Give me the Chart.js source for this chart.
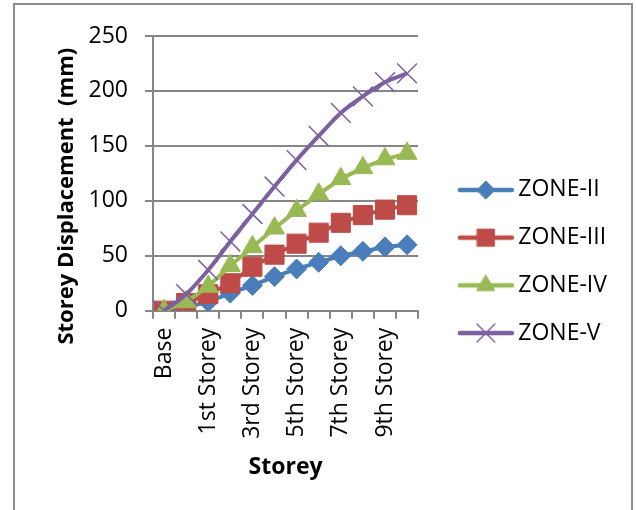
<!DOCTYPE html>
<html>
<head>
<meta charset="utf-8">
<script src="https://cdn.jsdelivr.net/npm/chart.js@4"></script>
<style>
  html, body { margin: 0; padding: 0; background: #fff; }
  #wrap { position: relative; width: 636px; height: 510px; overflow: hidden; }
  #frame { position: absolute; left: 13px; top: 3px; width: 620px; height: 600px; border: 2px solid #8c8c8c; box-sizing: border-box; }
  #c { position: absolute; left: 0; top: 0; }
</style>
</head>
<body>
<div id="wrap">
  <div id="frame"></div>
  <canvas id="c" width="636" height="510"></canvas>
</div>
<script>
const categories = ['Base', 'Plinth', '1st Storey', '2nd Storey', '3rd Storey', '4th Storey', '5th Storey', '6th Storey', '7th Storey', '8th Storey', '9th Storey', '10th Storey'];
const zone2 = [0, 3, 8, 16, 23, 31, 38, 44, 50, 54, 58, 60];
const zone3 = [0, 7, 15, 25, 40, 51, 61, 71, 80, 87, 92, 96];
const zone4 = [0, 8, 22, 41, 58, 75, 91, 106, 120, 130, 138, 143];
const zone5 = [0, 15, 37, 63, 88, 113, 137, 159, 180, 195, 208, 216];
const seriesNames = ['ZONE-II', 'ZONE-III', 'ZONE-IV', 'ZONE-V'];
const yTicks = [0, 50, 100, 150, 200, 250];

const colors = ['#4A7EBB', '#BE4B48', '#98B954', '#7D60A0'];
const styles = [
  { pointStyle: 'rectRot', radius: 10, bw: 1 },
  { pointStyle: 'rect', radius: 13.5, bw: 1 },
  { pointStyle: 'triangle', radius: 11.5, bw: 1 },
  { pointStyle: 'crossRot', radius: 14, bw: 1.5 }
];

Chart.defaults.font.family = "'Open Sans', sans-serif";
Chart.defaults.color = '#000';

function legendImage(i) {
  const cv = document.createElement('canvas');
  cv.width = 80; cv.height = 30;
  const ctx = cv.getContext('2d');
  ctx.strokeStyle = colors[i];
  ctx.lineWidth = 4.5;
  ctx.lineCap = 'round';
  ctx.beginPath();
  ctx.moveTo(25, 15);
  ctx.lineTo(77, 15);
  ctx.stroke();
  ctx.fillStyle = colors[i];
  ctx.strokeStyle = colors[i];
  ctx.lineWidth = styles[i].bw;
  Chart.helpers.drawPoint(ctx, { pointStyle: styles[i].pointStyle, radius: styles[i].radius * 0.9, borderWidth: styles[i].bw, rotation: 0 }, 51, 15);
  return cv;
}

const seriesData = [zone2, zone3, zone4, zone5];
const datasets = seriesData.map((d, i) => ({
  label: seriesNames[i],
  data: d,
  borderColor: colors[i],
  backgroundColor: colors[i],
  borderWidth: 4,
  pointStyle: styles[i].pointStyle,
  pointRadius: styles[i].radius,
  pointHoverRadius: styles[i].radius,
  pointBorderWidth: styles[i].bw,
  pointBackgroundColor: colors[i],
  pointBorderColor: colors[i],
  tension: 0,
  cubicInterpolationMode: i === 3 ? 'monotone' : 'default',
  order: 4 - i,
  fill: false
}));
const legendImgs = seriesNames.map((_, i) => legendImage(i));

new Chart(document.getElementById('c'), {
  type: 'line',
  data: { labels: categories, datasets: datasets },
  options: {
    responsive: false,
    animation: false,
    layout: { padding: { left: 49, top: 36, bottom: 23, right: 19 } },
    plugins: {
      tooltip: { enabled: false },
      legend: {
        position: 'right',
        align: 'center',
        maxWidth: 260,
        labels: {
          usePointStyle: true,
          pointStyleWidth: 64,
          boxHeight: 20,
          padding: 24.7,
          font: { size: 23 },
          color: '#000',
          generateLabels: (chart) => chart.data.datasets.map((ds, i) => ({
            text: ds.label,
            fillStyle: colors[i],
            strokeStyle: colors[i],
            lineWidth: 0,
            pointStyle: legendImgs[i],
            hidden: false,
            datasetIndex: i,
            fontColor: '#000'
          }))
        }
      }
    },
    scales: {
      x: {
        type: 'category',
        offset: true,
        afterFit: (s) => { s.height = 176.3; },
        grid: { drawOnChartArea: false, offset: true, drawTicks: true, tickLength: 8, color: '#868686', lineWidth: 2 },
        border: { display: true, color: '#868686', width: 2 },
        ticks: {
          autoSkip: false,
          minRotation: 90,
          maxRotation: 90,
          padding: 9,
          font: { size: 23 },
          color: '#000',
          callback: (v, i) => (i % 2 === 0 ? categories[i] : '')
        },
        title: { display: true, text: 'Storey', font: { size: 23, weight: 'bold' }, color: '#000', padding: { top: 4, bottom: 6 } }
      },
      y: {
        min: 0,
        max: 250,
        afterFit: (s) => { s.width = 104; },
        afterBuildTicks: (s) => { s.ticks = yTicks.map(v => ({ value: v })); },
        grid: { color: '#868686', lineWidth: 2, tickLength: 8, drawTicks: true },
        border: { display: true, color: '#868686', width: 2 },
        ticks: { padding: 17, font: { size: 23 }, color: '#000' },
        title: { display: true, text: 'Storey Displacement  (mm)        ', font: { size: 22, weight: 'bold' }, color: '#000', padding: { top: 5, bottom: 4 } }
      }
    }
  }
});
</script>
</body>
</html>
